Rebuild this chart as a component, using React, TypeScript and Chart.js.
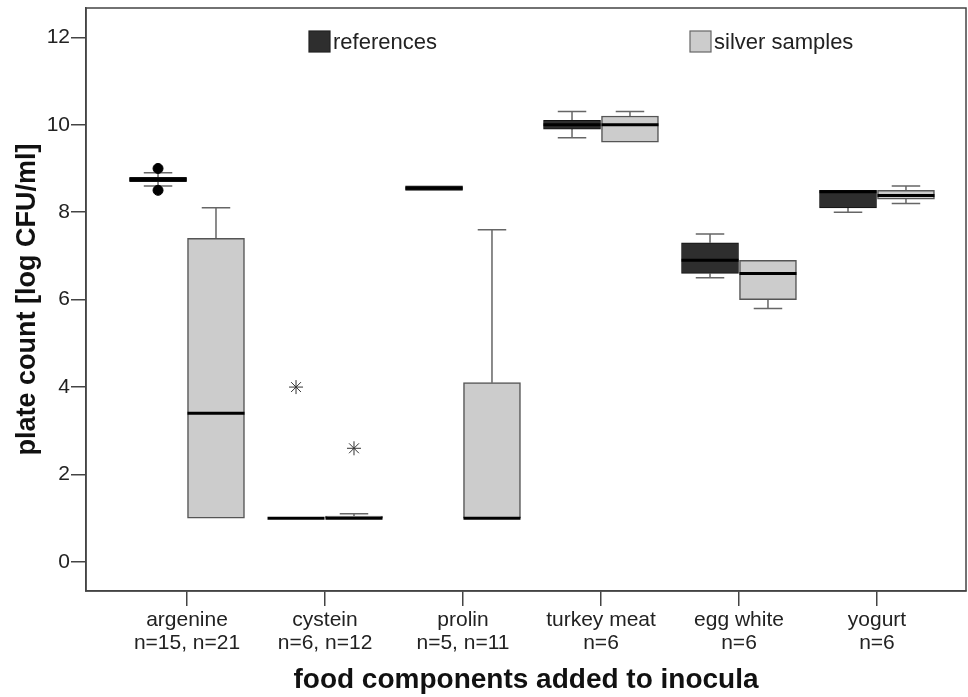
import React, { useEffect, useRef } from 'react';
import { Chart, registerables } from 'chart.js';

Chart.register(...registerables);

const categories: string[][] = [
  ['argenine', 'n=15, n=21'],
  ['cystein', 'n=6, n=12'],
  ['prolin', 'n=5, n=11'],
  ['turkey meat', 'n=6'],
  ['egg white', 'n=6'],
  ['yogurt', 'n=6'],
];
const seriesNames = ['references', 'silver samples'];

// references: whisker low, Q1, median, Q3, whisker high
const refMin = [8.6, 1.0, 8.5, 9.7, 6.5, 8.0];
const refQ1 = [8.7, 1.0, 8.5, 9.9, 6.6, 8.1];
const refMedian = [8.75, 1.0, 8.55, 10.0, 6.9, 8.47];
const refQ3 = [8.8, 1.0, 8.6, 10.1, 7.3, 8.5];
const refMax = [8.9, 1.0, 8.6, 10.3, 7.5, 8.5];

// silver samples
const silMin = [1.0, 1.0, 1.0, 9.6, 5.8, 8.2];
const silQ1 = [1.0, 1.0, 1.0, 9.6, 6.0, 8.3];
const silMedian = [3.4, 1.0, 1.0, 10.0, 6.6, 8.38];
const silQ3 = [7.4, 1.05, 4.1, 10.2, 6.9, 8.5];
const silMax = [8.1, 1.1, 7.6, 10.3, 6.9, 8.6];

// outliers (circles) and extremes (stars): category index, value
const refOutlierCat = [0, 0];
const refOutlierVal = [9.0, 8.5];
const refExtremeCat = [1];
const refExtremeVal = [4.0];
const silExtremeCat = [1];
const silExtremeVal = [2.6];

const yTicks = [0, 2, 4, 6, 8, 10, 12];

const GROUP_OFFSET = 0.21;
const FONT = "'Liberation Sans', Arial, Helvetica, sans-serif";
const REF_COLOR = '#2e2e2e';
const SIL_COLOR = '#cccccc';

const boxParts = {
  id: 'boxParts',
  beforeDatasetsDraw(chart: any) {
    const ctx = chart.ctx;
    const y = chart.scales.y;
    const groups = [
      { meta: chart.getDatasetMeta(0), min: refMin, q1: refQ1, q3: refQ3, max: refMax },
      { meta: chart.getDatasetMeta(1), min: silMin, q1: silQ1, q3: silQ3, max: silMax },
    ];
    ctx.save();
    ctx.strokeStyle = '#666';
    ctx.lineWidth = 1.5;
    groups.forEach((g) => {
      g.meta.data.forEach((bar: any, i: number) => {
        const cx = bar.x;
        const cap = bar.width / 4;
        const segs: [number, number][] = [];
        if (g.max[i] > g.q3[i]) segs.push([g.q3[i], g.max[i]]);
        if (g.min[i] < g.q1[i]) segs.push([g.q1[i], g.min[i]]);
        segs.forEach(([a, b]) => {
          const ya = y.getPixelForValue(a);
          const yb = y.getPixelForValue(b);
          ctx.beginPath();
          ctx.moveTo(cx, ya);
          ctx.lineTo(cx, yb);
          ctx.moveTo(cx - cap, yb);
          ctx.lineTo(cx + cap, yb);
          ctx.stroke();
        });
      });
    });
    ctx.restore();
  },
  afterDatasetsDraw(chart: any) {
    const ctx = chart.ctx;
    const y = chart.scales.y;
    const area = chart.chartArea;
    const groups = [
      { meta: chart.getDatasetMeta(0), med: refMedian },
      { meta: chart.getDatasetMeta(1), med: silMedian },
    ];
    ctx.save();
    ctx.strokeStyle = '#000';
    ctx.lineWidth = 3;
    groups.forEach((g) => {
      g.meta.data.forEach((bar: any, i: number) => {
        const py = y.getPixelForValue(g.med[i]);
        ctx.beginPath();
        ctx.moveTo(bar.x - bar.width / 2, py);
        ctx.lineTo(bar.x + bar.width / 2, py);
        ctx.stroke();
      });
    });
    // frame
    ctx.strokeStyle = '#444';
    ctx.lineWidth = 1.5;
    ctx.strokeRect(area.left, area.top, area.right - area.left, area.bottom - area.top);
    // legend
    const legendX = [309, 690];
    ctx.font = `22px ${FONT}`;
    ctx.textBaseline = 'middle';
    ctx.textAlign = 'left';
    [0, 1].forEach((k) => {
      const ds = chart.data.datasets[k];
      const lx = legendX[k];
      ctx.fillStyle = ds.backgroundColor;
      ctx.fillRect(lx, 31, 21, 21);
      ctx.strokeStyle = k === 0 ? '#222' : '#666';
      ctx.lineWidth = 1.2;
      ctx.strokeRect(lx, 31, 21, 21);
      ctx.fillStyle = '#222';
      ctx.fillText(ds.label, lx + 24, 43);
    });
    ctx.restore();
  },
};

export default function App() {
  const canvasRef = useRef<HTMLCanvasElement>(null);

  useEffect(() => {
    const canvas = canvasRef.current;
    if (!canvas) return;
    const chart = new Chart(canvas, {
      type: 'bar',
      data: {
        datasets: [
          {
            label: seriesNames[0],
            data: categories.map((_, i) => ({ x: i - GROUP_OFFSET, y: [refQ1[i], refQ3[i]] })) as any,
            backgroundColor: REF_COLOR,
            borderColor: '#111',
            borderWidth: 1,
            borderSkipped: false,
            barThickness: 57,
            grouped: false,
          } as any,
          {
            label: seriesNames[1],
            data: categories.map((_, i) => ({ x: i + GROUP_OFFSET, y: [silQ1[i], silQ3[i]] })) as any,
            backgroundColor: SIL_COLOR,
            borderColor: '#555',
            borderWidth: 1.5,
            borderSkipped: false,
            barThickness: 57,
            grouped: false,
          } as any,
          {
            type: 'scatter',
            label: 'ref outliers',
            data: refOutlierCat.map((c, j) => ({ x: c - GROUP_OFFSET, y: refOutlierVal[j] })),
            pointStyle: 'circle',
            radius: 5,
            backgroundColor: '#000',
            borderColor: '#000',
          } as any,
          {
            type: 'scatter',
            label: 'ref extremes',
            data: refExtremeCat.map((c, j) => ({ x: c - GROUP_OFFSET, y: refExtremeVal[j] })),
            pointStyle: 'star',
            radius: 7,
            borderColor: '#333',
            borderWidth: 1,
          } as any,
          {
            type: 'scatter',
            label: 'silver extremes',
            data: silExtremeCat.map((c, j) => ({ x: c + GROUP_OFFSET, y: silExtremeVal[j] })),
            pointStyle: 'star',
            radius: 7,
            borderColor: '#333',
            borderWidth: 1,
          } as any,
        ],
      },
      options: {
        responsive: false,
        animation: false,
        layout: { autoPadding: false, padding: { top: 8, right: 2, left: 0, bottom: 0 } },
        plugins: {
          legend: { display: false },
          tooltip: { enabled: false },
        },
        scales: {
          x: {
            type: 'linear',
            offset: false,
            min: -0.732,
            max: 5.645,
            afterBuildTicks: (s: any) => {
              s.ticks = categories.map((_, i) => ({ value: i }));
            },
            afterFit: (s: any) => {
              s.height = 106;
              s.paddingLeft = 0;
              s.paddingRight = 0;
            },
            grid: { offset: false, drawOnChartArea: false, drawTicks: true, tickLength: 15, color: '#444', lineWidth: 1.5 },
            border: { display: true, color: '#444', width: 1.5 },
            ticks: {
              callback: (v: any) => categories[Math.round(v)] as any,
              color: '#222',
              font: { size: 21, family: FONT, lineHeight: 1.1 },
              padding: 3,
              maxRotation: 0,
              autoSkip: false,
            },
            title: {
              display: true,
              text: 'food components added to inocula',
              color: '#111',
              font: { size: 28, weight: 'bold', family: FONT },
              padding: { top: 0, bottom: 0 },
            },
          } as any,
          y: {
            type: 'linear',
            min: -0.664,
            max: 12.67,
            afterBuildTicks: (s: any) => {
              s.ticks = yTicks.map((v) => ({ value: v }));
            },
            afterFit: (s: any) => {
              s.width = 86;
              s.paddingTop = 0;
              s.paddingBottom = 0;
            },
            grid: { drawOnChartArea: false, drawTicks: true, tickLength: 15, color: '#444', lineWidth: 1.5 },
            border: { display: true, color: '#444', width: 1.5 },
            ticks: {
              color: '#222',
              font: { size: 21, family: FONT },
              padding: 1,
            },
            title: {
              display: true,
              text: 'plate count [log CFU/ml]',
              color: '#111',
              font: { size: 27, weight: 'bold', family: FONT },
              padding: { top: 11, bottom: 0 },
            },
          } as any,
        },
      },
      plugins: [boxParts],
    });
    return () => chart.destroy();
  }, []);

  return (
    <div style={{ position: 'absolute', left: 0, top: 0, width: 968, height: 697, background: '#fff' }}>
      <canvas ref={canvasRef} width={968} height={697} style={{ width: 968, height: 697 }} />
    </div>
  );
}
